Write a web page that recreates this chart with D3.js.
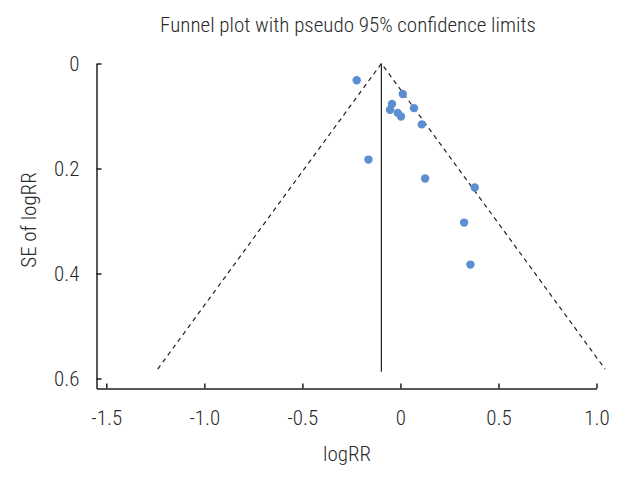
<!DOCTYPE html>
<html>
<head>
<meta charset="utf-8">
<script src="https://cdn.jsdelivr.net/npm/d3@7"></script>
<style>
  html, body { margin: 0; padding: 0; background: #fff; }
  text { font-family: "Liberation Sans Narrow", "Roboto Condensed", "DejaVu Sans Condensed", sans-serif; font-weight: 300; fill: #2a2a2a; }
</style>
</head>
<body>
<svg id="chart" width="635" height="480"></svg>
<script>
// Data
const logRR = [-0.223, 0.012, -0.043, -0.053, -0.014, 0.003, 0.069, 0.109, -0.163, 0.126, 0.379, 0.325, 0.357];
const seLogRR = [0.032, 0.058, 0.077, 0.088, 0.094, 0.101, 0.085, 0.116, 0.183, 0.219, 0.236, 0.303, 0.383];
const pooled = -0.097;
const seMax = 0.582;
const xTicks = [-1.5, -1.0, -0.5, 0, 0.5, 1.0];
const xTickLabels = ["-1.5", "-1.0", "-0.5", "0", "0.5", "1.0"];
const yTicks = [0, 0.2, 0.4, 0.6];
const yTickLabels = ["0", "0.2", "0.4", "0.6"];
const titleText = "Funnel plot with pseudo 95% confidence limits";
const xTitle = "logRR";
const yTitle = "SE of logRR";

const svg = d3.select("#chart");
const x = d3.scaleLinear().domain([-1.55, 1.0]).range([96.5, 596.5]);
const y = d3.scaleLinear().domain([0, 0.619]).range([63.5, 388.5]);

// funnel
const lo = pooled - 1.96 * seMax, hi = pooled + 1.96 * seMax;
const dash = d3.line().x(d => x(d[0])).y(d => y(d[1]));
svg.append("path").attr("d", dash([[lo, seMax], [pooled, 0], [hi, seMax]]))
  .attr("fill", "none").attr("stroke", "#231f20").attr("stroke-width", 1.2).attr("stroke-dasharray", "4.5,4");
svg.append("line").attr("x1", x(pooled)).attr("x2", x(pooled)).attr("y1", y(0)).attr("y2", y(0.587))
  .attr("stroke", "#231f20").attr("stroke-width", 1.2);

// axes
const xAxis = d3.axisBottom(x).tickValues(xTicks).tickFormat((d, i) => xTickLabels[i]).tickSize(-5).tickSizeOuter(0).tickPadding(22);
const gx = svg.append("g").attr("transform", `translate(0,${y(0.619)})`).call(xAxis);
const yAxis = d3.axisLeft(y).tickValues(yTicks).tickFormat((d, i) => yTickLabels[i]).tickSize(-5).tickSizeOuter(0).tickPadding(17);
const gy = svg.append("g").attr("transform", `translate(${x(-1.55)},0)`).call(yAxis);
[gx, gy].forEach(g => {
  g.selectAll("path, line").attr("stroke", "#231f20").attr("stroke-width", 1.5);
  g.selectAll("text").style("font-size", "21px").attr("fill", "#2a2a2a");
});

// points
svg.append("g").selectAll("circle").data(logRR).join("circle")
  .attr("cx", d => x(d)).attr("cy", (d, i) => y(seLogRR[i])).attr("r", 4.2)
  .attr("fill", "#5b8fd1");

// titles
svg.append("text").attr("x", 348).attr("y", 32).attr("text-anchor", "middle").style("font-size", "21px").text(titleText);
svg.append("text").attr("x", 347).attr("y", 461).attr("text-anchor", "middle").style("font-size", "21px").text(xTitle);
svg.append("text").attr("transform", "translate(36,220) rotate(-90)").attr("text-anchor", "middle").style("font-size", "21px").text(yTitle);
</script>
</body>
</html>
